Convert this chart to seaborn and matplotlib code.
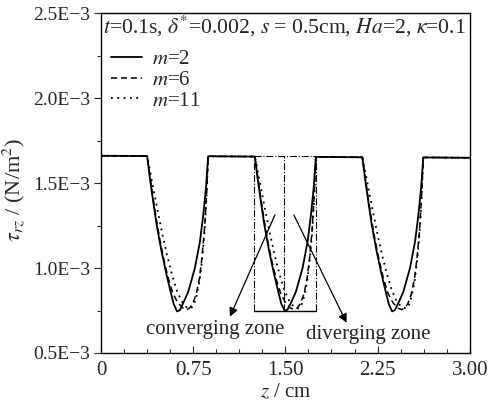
import matplotlib
matplotlib.use("Agg")
import matplotlib.pyplot as plt
import pandas as pd
import seaborn as sns
from matplotlib.ticker import MultipleLocator, FixedLocator, FixedFormatter
from matplotlib.lines import Line2D

# ---- data (tau in units of 1E-3 N/m^2, z in cm) ----
z_m2 = [0.000,
        0.376, 0.398, 0.425, 0.453, 0.493, 0.534, 0.566, 0.591, 0.618, 0.641, 0.676, 0.710, 0.764, 0.805, 0.832, 0.854, 0.872,
        1.252, 1.274, 1.301, 1.329, 1.369, 1.410, 1.442, 1.467, 1.494, 1.517, 1.552, 1.586, 1.640, 1.681, 1.708, 1.730, 1.748,
        2.126, 2.148, 2.175, 2.203, 2.243, 2.284, 2.316, 2.341, 2.368, 2.391, 2.426, 2.460, 2.514, 2.555, 2.582, 2.604, 2.622,
        3.000]
tau_m2 = [1.662,
          1.660, 1.529, 1.391, 1.254, 1.097, 0.959, 0.862, 0.790, 0.745, 0.752, 0.805, 0.861, 1.001, 1.156, 1.313, 1.472, 1.659,
          1.657, 1.529, 1.391, 1.254, 1.097, 0.959, 0.862, 0.790, 0.749, 0.755, 0.805, 0.861, 1.001, 1.156, 1.313, 1.472, 1.655,
          1.653, 1.529, 1.391, 1.254, 1.097, 0.959, 0.862, 0.790, 0.745, 0.752, 0.805, 0.861, 1.001, 1.156, 1.313, 1.472, 1.652,
          1.650]

z_m6 = [0.000,
        0.376, 0.396, 0.421, 0.451, 0.481, 0.516, 0.551, 0.586, 0.626, 0.666, 0.696, 0.721, 0.746, 0.776, 0.801, 0.821, 0.841, 0.858, 0.872,
        1.252, 1.272, 1.297, 1.327, 1.357, 1.392, 1.427, 1.462, 1.502, 1.542, 1.572, 1.597, 1.622, 1.652, 1.677, 1.697, 1.717, 1.734, 1.748,
        2.126, 2.146, 2.171, 2.201, 2.231, 2.266, 2.301, 2.336, 2.376, 2.416, 2.446, 2.471, 2.496, 2.526, 2.551, 2.571, 2.591, 2.608, 2.622,
        3.000]
tau_m6 = [1.662,
          1.660, 1.555, 1.425, 1.285, 1.160, 1.035, 0.930, 0.850, 0.795, 0.765, 0.755, 0.765, 0.790, 0.850, 0.940, 1.060, 1.220, 1.420, 1.659,
          1.657, 1.555, 1.425, 1.285, 1.160, 1.035, 0.930, 0.850, 0.795, 0.765, 0.755, 0.765, 0.790, 0.850, 0.940, 1.060, 1.220, 1.420, 1.655,
          1.653, 1.555, 1.425, 1.285, 1.160, 1.035, 0.930, 0.850, 0.795, 0.765, 0.755, 0.765, 0.790, 0.850, 0.940, 1.060, 1.220, 1.420, 1.652,
          1.650]

z_m11 = [0.000,
         0.376, 0.401, 0.431, 0.466, 0.501, 0.536, 0.576, 0.616, 0.656, 0.696, 0.731, 0.754, 0.776, 0.801, 0.821, 0.841, 0.858, 0.872,
         1.252, 1.277, 1.307, 1.342, 1.377, 1.412, 1.452, 1.492, 1.532, 1.572, 1.607, 1.630, 1.652, 1.677, 1.697, 1.717, 1.734, 1.748,
         2.126, 2.151, 2.181, 2.216, 2.251, 2.286, 2.326, 2.366, 2.406, 2.446, 2.481, 2.504, 2.526, 2.551, 2.571, 2.591, 2.608, 2.622,
         3.000]
tau_m11 = [1.662,
           1.660, 1.565, 1.450, 1.320, 1.195, 1.080, 0.965, 0.870, 0.805, 0.770, 0.762, 0.780, 0.830, 0.920, 1.040, 1.200, 1.410, 1.659,
           1.657, 1.565, 1.450, 1.320, 1.195, 1.080, 0.965, 0.870, 0.805, 0.770, 0.762, 0.780, 0.830, 0.920, 1.040, 1.200, 1.410, 1.655,
           1.653, 1.565, 1.450, 1.320, 1.195, 1.080, 0.965, 0.870, 0.805, 0.770, 0.762, 0.780, 0.830, 0.920, 1.040, 1.200, 1.410, 1.652,
           1.650]

x_ticks = [0, 0.75, 1.5, 2.25, 3.0]
x_ticklabels = ["0", "0.75", "1.50", "2.25", "3.00"]
y_ticks = [0.5, 1.0, 1.5, 2.0, 2.5]
y_ticklabels = ["0.5E\u22123", "1.0E\u22123", "1.5E\u22123", "2.0E\u22123", "2.5E\u22123"]
series_labels = ["$m$=2", "$m$=6", "$m$=11"]

# ---- style ----
sns.set_style("ticks")
plt.rcParams["font.family"] = ["Liberation Serif", "DejaVu Serif"]
plt.rcParams["mathtext.fontset"] = "stix"
plt.rcParams["axes.unicode_minus"] = True

FS = 15
fig = plt.figure(figsize=(4.95, 4.05), dpi=100)
ax = fig.add_axes([0.204, 0.1284, 0.745, 0.8383])

styles = {
    "$m$=2": dict(linestyle="-", lw=1.3, zorder=5),
    "$m$=6": dict(linestyle=(0, (4, 2.5)), lw=1.1, zorder=4),
    "$m$=11": dict(linestyle=(0, (1, 2.5)), lw=1.3, zorder=3),
}
data = {"$m$=2": (z_m2, tau_m2), "$m$=6": (z_m6, tau_m6), "$m$=11": (z_m11, tau_m11)}

for lab in ["$m$=11", "$m$=6", "$m$=2"]:
    zz, tt = data[lab]
    df = pd.DataFrame({"z": zz, "tau": tt})
    sns.lineplot(data=df, x="z", y="tau", sort=False, estimator=None, color="black",
                 ax=ax, legend=False, **styles[lab])

# annotation box around middle dip
box_l, box_r, box_b, box_t, box_mid = 1.246, 1.753, 0.749, 1.66, 1.49
ax.plot([box_l, box_l], [box_b, box_t], color="black", lw=0.8, ls="-.", zorder=2)
ax.plot([box_r, box_r], [box_b, box_t], color="black", lw=0.8, ls="-.", zorder=2)
ax.plot([box_l, box_r], [box_t, box_t], color="black", lw=0.8, ls="-.", zorder=2)
ax.plot([box_mid, box_mid], [box_b, box_t], color="black", lw=0.8, ls="-.", zorder=2)
ax.plot([box_l, box_r], [box_b, box_b], color="black", lw=1.0, ls="-", zorder=2)

ap = dict(arrowstyle="-|>", color="black", lw=0.9, mutation_scale=13, shrinkA=0, shrinkB=0)
ax.annotate("", xy=(1.049, 0.714), xytext=(1.415, 1.313), arrowprops=ap)
ax.annotate("", xy=(1.998, 0.678), xytext=(1.569, 1.313), arrowprops=ap)
ax.text(0.927, 0.637, "converging zone", ha="center", va="center", fontsize=FS)
ax.text(2.173, 0.610, "diverging zone", ha="center", va="center", fontsize=FS)

# parameter line
ax.text(0.006, 0.963, r"$t$=0.1s, $\delta^{*}$=0.002, $s$ = 0.5cm, $Ha$=2, $\kappa$=0.1",
        transform=ax.transAxes, ha="left", va="center", fontsize=15.6)

handles = [Line2D([], [], color="black", **{k: v for k, v in styles[l].items() if k != "zorder"})
           for l in series_labels]
ax.legend(handles, series_labels, loc="upper left", bbox_to_anchor=(0.027, 0.893),
          frameon=False, fontsize=FS, handlelength=1.5, handletextpad=0.45,
          labelspacing=0.05, borderpad=0, borderaxespad=0)

ax.set_xlim(0, 3.0)
ax.set_ylim(0.5, 2.5)
ax.xaxis.set_major_locator(FixedLocator(x_ticks))
ax.xaxis.set_major_formatter(FixedFormatter(x_ticklabels))
ax.xaxis.set_minor_locator(MultipleLocator(0.1875))
ax.yaxis.set_major_locator(FixedLocator(y_ticks))
ax.yaxis.set_major_formatter(FixedFormatter(y_ticklabels))
ax.yaxis.set_minor_locator(MultipleLocator(0.25))
ax.tick_params(axis="x", which="major", direction="in", length=5, width=0.8, labelsize=FS, pad=6)
ax.tick_params(axis="x", which="minor", direction="in", length=3, width=0.8)
ax.tick_params(axis="y", which="major", direction="out", length=5, width=0.8, labelsize=14, pad=3)
ax.tick_params(axis="y", which="minor", direction="out", length=3, width=0.8)
for sp in ax.spines.values():
    sp.set_visible(True)
    sp.set_linewidth(1.0)
    sp.set_color("black")

ax.set_xlabel("$z$ / cm", fontsize=FS, labelpad=2)
ax.set_ylabel(r"$\tau_{rz}$ / (N/m$^2$)", fontsize=16)
ax.yaxis.set_label_coords(-0.2, 0.48)

fig.savefig("out.png", dpi=100)
